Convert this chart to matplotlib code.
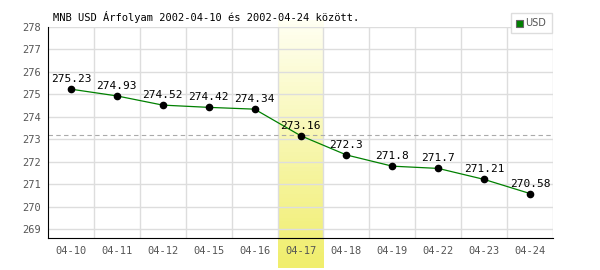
import matplotlib
matplotlib.use("Agg")
import matplotlib.pyplot as plt
import numpy as np
from matplotlib.patches import Rectangle
from matplotlib.colors import LinearSegmentedColormap

dates = ["04-10", "04-11", "04-12", "04-15", "04-16", "04-17",
         "04-18", "04-19", "04-22", "04-23", "04-24"]
values = [275.23, 274.93, 274.52, 274.42, 274.34, 273.16,
          272.3, 271.8, 271.7, 271.21, 270.58]
labels = ["275.23", "274.93", "274.52", "274.42", "274.34", "273.16",
          "272.3", "271.8", "271.7", "271.21", "270.58"]
average = 273.19
highlight = "04-17"
yticks = [269, 270, 271, 272, 273, 274, 275, 276, 277, 278]
title = "MNB USD Árfolyam 2002-04-10 és 2002-04-24 között."

mono = "DejaVu Sans Mono"
fig = plt.figure(figsize=(6, 2.7), dpi=100)
W, H = 600, 270
left, right, top, bottom = 48, 553, 27, 238
ax = fig.add_axes([left / W, 1 - bottom / H, (right - left) / W, (bottom - top) / H])

n = len(dates)
x = np.arange(n)
ylo, yhi = 268.6, 278.0

# highlight column gradient (extends below axes)
hi = dates.index(highlight)
grad = np.linspace(0, 1, 64).reshape(-1, 1)
cmap = LinearSegmentedColormap.from_list("yl", ["#fffff2", "#f0ee6c"])
ypp = (yhi - ylo) / (bottom - top)
y_top = yhi + (top - 20) * ypp
y_bot = ylo - (268 - bottom) * ypp
im = ax.imshow(grad, extent=(hi - 0.5, hi + 0.5, y_bot, y_top), origin="upper",
               cmap=cmap, aspect="auto", zorder=0.5)
im.set_clip_on(False)
ax.set_xlim(-0.5, n - 0.5)
ax.set_ylim(ylo, yhi)

# grid
for yy in yticks:
    ax.axhline(yy, color="#dddddd", lw=1, zorder=1)
for i in range(n):
    ax.axvline(i + 0.5, color="#dddddd", lw=1, zorder=1)

ax.axhline(average, color="#aaaaaa", lw=0.8, ls=(0, (4, 3)), zorder=1.5)

ax.plot(x, values, color="#008000", lw=0.9, zorder=3)
ax.plot(x, values, "o", color="black", ms=4.5, zorder=4)
for xi, v, lab in zip(x, values, labels):
    ax.text(xi, v + 0.22, lab, ha="center", va="bottom", fontsize=8,
            family=mono, color="black", zorder=5)

ax.set_xticks(x)
ax.set_xticklabels(dates, family=mono, fontsize=7.5, color="#555555")
ax.set_yticks(yticks)
ax.set_yticklabels([str(t) for t in yticks], family=mono, fontsize=7.5, color="#555555")
ax.tick_params(length=0, pad=6)
ax.tick_params(axis="y", pad=5)
for s in ["top", "right"]:
    ax.spines[s].set_visible(False)
ax.spines["left"].set_color("black")
ax.spines["bottom"].set_color("black")
ax.spines["left"].set_zorder(6)
ax.spines["bottom"].set_zorder(6)
ax.patch.set_alpha(0)

fig.text(53 / W, 1 - 17 / H, title, family=mono, fontsize=7.5, color="black",
         ha="left", va="center")

# legend box
fig.patches.append(Rectangle((511 / W, 1 - 33 / H), 41 / W, 20 / H,
                             transform=fig.transFigure, facecolor="white",
                             edgecolor="#dddddd", lw=1))
fig.patches.append(Rectangle((516 / W, 1 - 26.5 / H), 7 / W, 7 / H,
                             transform=fig.transFigure, facecolor="#008000",
                             edgecolor="#666666", lw=0.8))
fig.text(525 / W, 1 - 23 / H, "USD", family="DejaVu Sans", fontsize=7,
         color="#555555", ha="left", va="center")

fig.savefig("out.png", dpi=100)
